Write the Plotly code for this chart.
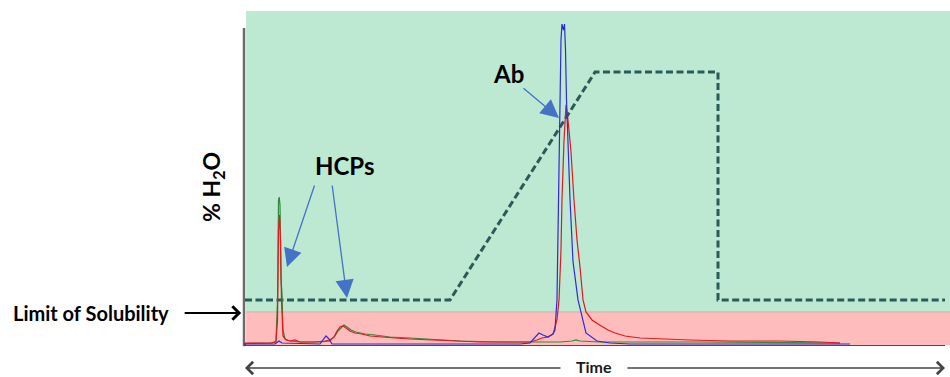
import plotly.graph_objects as go

# ---- data (time in arbitrary units 0-100, signal / %H2O on 0-100 scale) ----
gradient_time = [0.14, 29.18, 49.72, 67.14, 67.14, 99.29]
gradient_h2o = [13.5, 13.5, 81.7, 81.7, 13.5, 13.5]

red_time = [0, 3.68, 4.53, 4.75, 4.89, 5.03, 5.17, 5.31, 5.52, 5.95,
            6.52, 7.22, 7.93, 10.06, 11.47, 12.18, 12.75, 13.17, 13.6, 14.02,
            14.45, 15.01, 15.72, 16.71, 17.85, 19.26, 21.39, 23.51, 26.35, 29.18,
            33.43, 37.68, 40.51, 41.5, 42.21, 43.06, 43.77, 44.33, 44.62, 44.9,
            45.04, 45.33, 45.61, 45.89, 46.3, 46.74, 47.17, 47.59, 48.02, 48.44,
            49.29, 50.14, 50.85, 51.56, 52.55, 53.97, 56.09, 58.92, 63.17, 68.84,
            75.92, 81.59, 84.42]
red_signal = [0.6, 0.6, 0.9, 7.5, 34.4, 38.9, 31.4, 13.5, 2.7, 1.5,
              1.2, 1.5, 0.9, 0.9, 1.2, 1.5, 2.4, 4.2, 5.4, 5.7,
              5.1, 4.2, 3.6, 3.3, 2.7, 2.4, 2.1, 1.8, 1.5, 1.2,
              0.9, 0.9, 0.9, 1.5, 2.1, 2.4, 3.3, 7.5, 13.5, 28.4,
              43.4, 61.4, 71.9, 67.4, 58.4, 43.4, 31.4, 23.4, 13.5, 9.9,
              7.5, 6.3, 5.4, 4.5, 3.6, 2.7, 2.1, 1.8, 1.5, 1.2,
              1.2, 0.9, 0.6]

green_time = [0, 3.97, 4.53, 4.75, 4.89, 4.99, 5.1, 5.24, 5.38, 5.52,
              5.81, 6.52, 7.93, 10.76, 12.18, 12.89, 13.31, 13.74, 14.16, 14.59,
              15.16, 15.86, 17.14, 18.56, 20.68, 23.51, 26.35, 30.59, 36.26, 44.76,
              46.46, 47.03, 47.59, 50.42, 64.59, 75.92, 84.42]
green_signal = [0.45, 0.6, 1.2, 13.5, 43.4, 44.3, 41.9, 19.5, 15.6, 4.5,
                1.8, 1.2, 0.9, 0.9, 1.2, 2.7, 4.2, 5.1, 6.0, 5.4,
                4.5, 3.9, 3.3, 3.0, 2.4, 2.1, 1.8, 1.2, 0.9, 0.9,
                1.2, 1.5, 1.2, 0.9, 0.9, 0.75, 0.6]

blue_time = [0, 4.39, 4.96, 5.38, 10.76, 11.19, 11.61, 12.04, 12.46, 22.1,
             39.09, 40.51, 41.22, 41.78, 42.35, 43.06, 43.77, 44.05, 44.33, 44.55,
             44.76, 44.9, 45.04, 45.25, 45.4, 45.54, 45.68, 46.18, 46.6, 47.31,
             48.44, 50.0, 51.84, 54.67, 85.84]
blue_signal = [0.3, 0.3, 1.2, 0.6, 0.3, 1.5, 2.7, 1.8, 0.3, 0.3,
               0.3, 0.6, 2.1, 3.6, 3.0, 2.4, 3.3, 4.5, 13.5, 43.4,
               73.4, 91.3, 96.1, 94.3, 96.1, 88.3, 73.4, 43.4, 25.0, 13.5,
               3.6, 1.2, 0.6, 0.3, 0.3]

solubility_limit = 9.9  # % level of the pink band top

FONT = "Lato"

fig = go.Figure()

fig.add_trace(go.Scatter(x=gradient_time, y=gradient_h2o, mode="lines",
                         line=dict(color="#2b5a5a", width=3, dash="7px,3.5px"),
                         hoverinfo="skip"))
fig.add_trace(go.Scatter(x=green_time, y=green_signal, mode="lines",
                         line=dict(color="#2f8a3a", width=1.2), hoverinfo="skip"))
fig.add_trace(go.Scatter(x=red_time, y=red_signal, mode="lines",
                         line=dict(color="#e3191b", width=1.2), hoverinfo="skip"))
fig.add_trace(go.Scatter(x=blue_time, y=blue_signal, mode="lines",
                         line=dict(color="#2c2cd8", width=1.2), hoverinfo="skip"))

shapes = [
    # green region
    dict(type="rect", xref="x", yref="y", x0=0.3, x1=100, y0=solubility_limit, y1=100,
         fillcolor="#bde9d2", line=dict(width=0), layer="below"),
    # pink region
    dict(type="rect", xref="x", yref="y", x0=0.3, x1=100, y0=0, y1=solubility_limit,
         fillcolor="#ffbcbc", line=dict(width=0), layer="below"),
    dict(type="line", xref="x", yref="y", x0=0.3, x1=100, y0=solubility_limit, y1=solubility_limit,
         line=dict(color="#cdb2a6", width=1), layer="below"),
    # axes
    dict(type="line", xref="paper", yref="paper", x0=0, x1=0, y0=-0.004, y1=0.949,
         line=dict(color="#6b6b6b", width=2.5), layer="below"),
    dict(type="line", xref="paper", yref="paper", x0=0, x1=0.993, y0=0, y1=0,
         line=dict(color="#4d4d4d", width=2), layer="below"),
]

blue_arrow = "#4472c4"


def label(text, x, y, size, color="black", angle=0):
    return dict(text=text, xref="paper", yref="paper", x=x, y=y,
                xanchor="center", yanchor="middle", textangle=angle,
                showarrow=False, font=dict(family=FONT, size=size, color=color))


def arrow(x, y, ax, ay, head, size, width, color):
    return dict(text="", xref="paper", yref="paper", x=x, y=y, ax=ax, ay=ay,
                xanchor="center", yanchor="middle",
                showarrow=True, arrowhead=head, arrowsize=size,
                arrowwidth=width, arrowcolor=color)


annotations = [
    label("<b>HCPs</b>", 0.143, 0.536, 24),
    label("<b>Ab</b>", 0.374, 0.814, 24),
    arrow(0.0609, 0.2335, 28, -83, 2, 2.8, 1.3, blue_arrow),
    arrow(0.1459, 0.1407, -15, -114, 2, 2.8, 1.3, blue_arrow),
    arrow(0.4462, 0.6796, -37, -31, 2, 2.8, 1.3, blue_arrow),
    label("<b>% H<sub>2</sub>O</b>", -0.0453, 0.473, 23, angle=-90),
    label("<b>Limit of Solubility</b>", -0.2174, 0.0958, 20),
    arrow(-0.004, 0.0958, -58, 0, 4, 1.3, 2, "black"),
    label("<b>Time</b>", 0.4958, -0.0629, 16, color="#1a1a1a"),
    arrow(0.0014, -0.0689, 317, 0, 4, 1.6, 1.5, "#444444"),
    arrow(0.9929, -0.0689, -319, 0, 4, 1.6, 1.5, "#444444"),
]

fig.update_layout(
    width=950, height=377,
    margin=dict(l=244, r=0, t=11, b=32),
    paper_bgcolor="white", plot_bgcolor="white",
    showlegend=False,
    shapes=shapes, annotations=annotations,
    xaxis=dict(range=[0, 100], visible=False, fixedrange=True),
    yaxis=dict(range=[0, 100], visible=False, fixedrange=True),
)

fig.write_html("out.html", config={"displayModeBar": False})
